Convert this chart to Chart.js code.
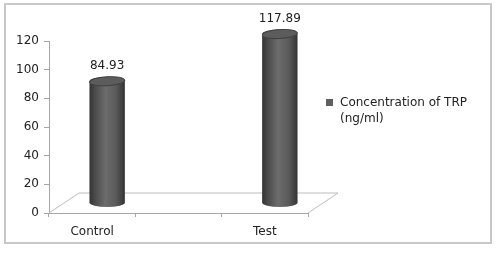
<!DOCTYPE html>
<html>
<head>
<meta charset="utf-8">
<script src="https://cdn.jsdelivr.net/npm/chart.js@4"></script>
<style>
  body { margin: 0; background: #fff; }
  canvas { display: block; }
</style>
</head>
<body>
<canvas id="trpChart" width="500" height="253"></canvas>
<script>
const categories = ['Control', 'Test'];
const values = [84.93, 117.89];
const yTicks = [0, 20, 40, 60, 80, 100, 120];
const seriesLabel = 'Concentration of TRP (ng/ml)';

// excel's 3d layout leaves an empty slot between the two cylinders
const labels = [categories[0], '', categories[1]];
const data = [values[0], null, values[1]];

const FONT = { family: 'DejaVu Sans', size: 12 };
const AXIS = '#a6a6a6';
const DEPTH_X = 30, DEPTH_Y = 20;

const cylinders = {
    id: 'cylinders',
    beforeDraw(chart) {
        const ctx = chart.ctx;
        ctx.save();
        ctx.fillStyle = '#fff';
        ctx.fillRect(0, 0, chart.width, chart.height);
        ctx.strokeStyle = '#c8c8c8';
        ctx.lineWidth = 2;
        ctx.strokeRect(5, 4, 486, 239);
        ctx.restore();
    },
    beforeDatasetsDraw(chart) {
        // floor of the 3d plot
        const ctx = chart.ctx;
        const x = chart.scales.x, y = chart.scales.y;
        const y0 = y.getPixelForValue(0);
        ctx.save();
        ctx.strokeStyle = '#bdbdbd';
        ctx.lineWidth = 1;
        ctx.beginPath();
        ctx.moveTo(x.left, y0);
        ctx.lineTo(x.left + DEPTH_X, y0 - DEPTH_Y);
        ctx.lineTo(x.right + DEPTH_X, y0 - DEPTH_Y);
        ctx.lineTo(x.right, y0);
        ctx.stroke();
        ctx.restore();
    },
    afterDatasetsDraw(chart) {
        const ctx = chart.ctx;
        const meta = chart.getDatasetMeta(0);
        ctx.save();
        meta.data.forEach((bar, i) => {
            const v = chart.data.datasets[0].data[i];
            if (v === null) return;
            const cx = bar.x + DEPTH_X / 2;
            const top = bar.y - DEPTH_Y / 2;
            const base = bar.base - DEPTH_Y / 2;
            const rx = bar.width / 2, ry = 4.5;
            const left = cx - rx, right = cx + rx;

            const g = ctx.createLinearGradient(left, 0, right, 0);
            g.addColorStop(0, '#333');
            g.addColorStop(0.15, '#4a4a4a');
            g.addColorStop(0.45, '#6c6c6c');
            g.addColorStop(0.75, '#5a5a5a');
            g.addColorStop(1, '#333');

            ctx.beginPath();
            ctx.moveTo(left, top);
            ctx.lineTo(left, base);
            ctx.ellipse(cx, base, rx, ry, 0, Math.PI, 0, true);
            ctx.lineTo(right, top);
            ctx.ellipse(cx, top, rx, ry, 0, 0, Math.PI, true);
            ctx.closePath();
            ctx.fillStyle = g;
            ctx.fill();

            ctx.beginPath();
            ctx.ellipse(cx, top, rx, ry, -0.06, 0, Math.PI * 2);
            ctx.fillStyle = '#5c5c5c';
            ctx.fill();
            ctx.strokeStyle = '#404040';
            ctx.lineWidth = 1;
            ctx.stroke();

            ctx.fillStyle = '#222';
            ctx.font = FONT.size + 'px ' + FONT.family;
            ctx.textAlign = 'center';
            ctx.textBaseline = 'middle';
            ctx.fillText(v.toFixed(2), cx, top - 15);
        });
        ctx.restore();
    },
    afterDraw(chart) {
        // legend, wrapped like the original
        const ctx = chart.ctx;
        ctx.save();
        ctx.fillStyle = '#5f5f5f';
        ctx.fillRect(326, 99, 7, 7);
        ctx.fillStyle = '#222';
        ctx.font = FONT.size + 'px ' + FONT.family;
        ctx.textAlign = 'left';
        ctx.textBaseline = 'middle';
        ctx.fillText('Concentration of TRP', 340, 103);
        ctx.fillText('(ng/ml)', 340, 119);
        ctx.restore();
    }
};

new Chart(document.getElementById('trpChart').getContext('2d'), {
    type: 'bar',
    data: {
        labels: labels,
        datasets: [{
            label: seriesLabel,
            data: data,
            backgroundColor: 'rgba(0,0,0,0)',
            borderWidth: 0,
            barPercentage: 0.41,
            categoryPercentage: 1
        }]
    },
    options: {
        responsive: false,
        animation: false,
        layout: { padding: { left: 0, right: 192, top: 41, bottom: 10 } },
        scales: {
            x: {
                offset: true,
                afterFit: function (s) { s.height = 30; },
                grid: {
                    offset: true,
                    drawOnChartArea: false,
                    tickLength: 4,
                    color: AXIS
                },
                border: { color: AXIS },
                ticks: { font: FONT, color: '#222', padding: 8 }
            },
            y: {
                min: 0,
                max: 120,
                afterFit: function (s) { s.width = 49; },
                afterBuildTicks: function (s) { s.ticks = yTicks.map(v => ({ value: v })); },
                grid: {
                    drawOnChartArea: false,
                    tickLength: 5,
                    color: AXIS
                },
                border: { color: AXIS },
                ticks: { font: FONT, color: '#222', padding: 5 }
            }
        },
        plugins: {
            legend: { display: false },
            tooltip: { enabled: false }
        }
    },
    plugins: [cylinders]
});
</script>
</body>
</html>
